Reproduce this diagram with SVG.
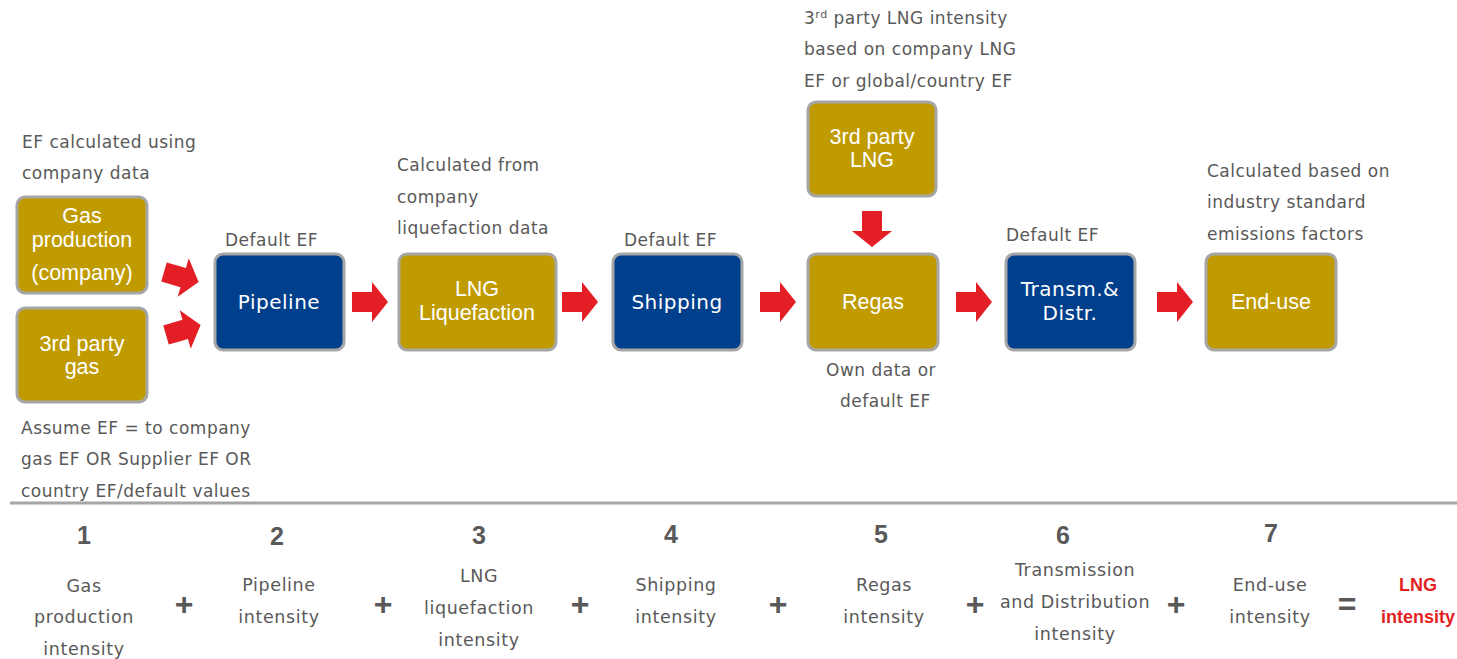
<svg xmlns="http://www.w3.org/2000/svg" width="1457" height="659" viewBox="0 0 1457 659">
<defs>
<style>
.gold{fill:#BF9B00;stroke:#A6A6A6;stroke-width:3}
.blue{fill:#003F8C;stroke:#A6A6A6;stroke-width:3}
.bt{font-family:"Liberation Sans",Arial,sans-serif;font-size:21.5px;fill:#FFFFFF;text-anchor:middle}
.bb{font-family:"DejaVu Sans",sans-serif;font-size:20px;letter-spacing:0.5px;fill:#FFFFFF;text-anchor:middle}
.an{font-family:"DejaVu Sans",sans-serif;font-size:17px;letter-spacing:0.5px;fill:#595959}
.lb{font-family:"DejaVu Sans",sans-serif;font-size:17.5px;letter-spacing:0.6px;fill:#595959;text-anchor:middle}
.num{font-family:"Liberation Sans",Arial,sans-serif;font-size:25px;font-weight:bold;fill:#595959;text-anchor:middle}
.op{font-family:"Liberation Sans",Arial,sans-serif;font-size:32px;font-weight:bold;fill:#595959;text-anchor:middle}
.res{font-family:"Liberation Sans",Arial,sans-serif;font-size:18px;font-weight:bold;fill:#E31E24;text-anchor:middle}
.arr{fill:#E31E24}
</style>
<path id="ra" class="arr" d="M0,-10 H20 V-20 L36,0 L20,20 V10 H0 Z"/>
</defs>
<rect width="1457" height="659" fill="#FFFFFF"/>

<g id="annotations">
<text class="an" x="22" y="148">EF calculated using</text>
<text class="an" x="22" y="179">company data</text>
<text class="an" x="397" y="171">Calculated from</text>
<text class="an" x="397" y="203">company</text>
<text class="an" x="397" y="234">liquefaction data</text>
<text class="an" x="225" y="246">Default EF</text>
<text class="an" x="624" y="246">Default EF</text>
<text class="an" x="1006" y="241">Default EF</text>
<text class="an" x="804" y="24">3<tspan font-size="11" dy="-6">rd</tspan><tspan dy="6"> party LNG intensity</tspan></text>
<text class="an" x="804" y="55">based on company LNG</text>
<text class="an" x="804" y="87">EF or global/country EF</text>
<text class="an" x="1207" y="177">Calculated based on</text>
<text class="an" x="1207" y="208">industry standard</text>
<text class="an" x="1207" y="240">emissions factors</text>
<text class="an" x="826" y="376">Own data or</text>
<text class="an" x="840" y="407">default EF</text>
<text class="an" x="21" y="434">Assume EF = to company</text>
<text class="an" x="21" y="465">gas EF OR Supplier EF OR</text>
<text class="an" x="21" y="497">country EF/default values</text>
</g>

<g id="node-gas-production">
<rect class="gold" x="17" y="197" width="130" height="96" rx="8"/>
<text class="bt" x="82" y="223">Gas</text>
<text class="bt" x="82" y="247">production</text>
<text class="bt" x="82" y="280">(company)</text>
</g>
<g id="node-3rd-party-gas">
<rect class="gold" x="17" y="308" width="130" height="94" rx="8"/>
<text class="bt" x="82" y="351">3rd party</text>
<text class="bt" x="82" y="374">gas</text>
</g>
<g id="node-pipeline">
<rect class="blue" x="215" y="254" width="129" height="96" rx="8"/>
<text class="bb" x="279" y="309">Pipeline</text>
</g>
<g id="node-lng-liquefaction">
<rect class="gold" x="399" y="254" width="157" height="96" rx="8"/>
<text class="bt" x="477" y="296">LNG</text>
<text class="bt" x="477" y="320">Liquefaction</text>
</g>
<g id="node-shipping">
<rect class="blue" x="613" y="254" width="129" height="96" rx="8"/>
<text class="bb" x="677" y="309">Shipping</text>
</g>
<g id="node-3rd-party-lng">
<rect class="gold" x="808" y="102" width="128" height="94" rx="8"/>
<text class="bt" x="872" y="144">3rd party</text>
<text class="bt" x="872" y="167">LNG</text>
</g>
<g id="node-regas">
<rect class="gold" x="808" y="254" width="130" height="96" rx="8"/>
<text class="bt" x="873" y="309">Regas</text>
</g>
<g id="node-transm">
<rect class="blue" x="1006" y="254" width="129" height="96" rx="8"/>
<text class="bb" x="1070" y="296">Transm.&amp;</text>
<text class="bb" x="1070" y="320">Distr.</text>
</g>
<g id="node-end-use">
<rect class="gold" x="1206" y="254" width="130" height="96" rx="8"/>
<text class="bt" x="1271" y="309">End-use</text>
</g>

<g id="connectors">
<use href="#ra" transform="translate(164,272) rotate(16)"/>
<use href="#ra" transform="translate(166,335) rotate(-16)"/>
<use href="#ra" transform="translate(352,302)"/>
<use href="#ra" transform="translate(562,302)"/>
<use href="#ra" transform="translate(760,302)"/>
<use href="#ra" transform="translate(956,302)"/>
<use href="#ra" transform="translate(1157,302)"/>
<use href="#ra" transform="translate(872,211) rotate(90)"/>
</g>

<line x1="10" y1="503" x2="1457" y2="503" stroke="#A6A6A6" stroke-width="3"/>

<g id="summary">
<text class="num" x="84" y="544">1</text>
<text class="num" x="277" y="545">2</text>
<text class="num" x="479" y="544">3</text>
<text class="num" x="671" y="543">4</text>
<text class="num" x="881" y="543">5</text>
<text class="num" x="1063" y="544">6</text>
<text class="num" x="1271" y="542">7</text>

<text class="lb" x="84" y="592">Gas</text>
<text class="lb" x="84" y="623">production</text>
<text class="lb" x="84" y="655">intensity</text>
<text class="lb" x="279" y="591">Pipeline</text>
<text class="lb" x="279" y="623">intensity</text>
<text class="lb" x="479" y="582">LNG</text>
<text class="lb" x="479" y="614">liquefaction</text>
<text class="lb" x="479" y="646">intensity</text>
<text class="lb" x="676" y="591">Shipping</text>
<text class="lb" x="676" y="623">intensity</text>
<text class="lb" x="884" y="591">Regas</text>
<text class="lb" x="884" y="623">intensity</text>
<text class="lb" x="1075" y="576">Transmission</text>
<text class="lb" x="1075" y="608">and Distribution</text>
<text class="lb" x="1075" y="640">intensity</text>
<text class="lb" x="1270" y="591">End-use</text>
<text class="lb" x="1270" y="623">intensity</text>

<text class="op" x="184" y="615">+</text>
<text class="op" x="383" y="615">+</text>
<text class="op" x="580" y="615">+</text>
<text class="op" x="778" y="615">+</text>
<text class="op" x="975" y="615">+</text>
<text class="op" x="1176" y="615">+</text>
<text class="op" x="1347" y="615">=</text>

<text class="res" x="1418" y="591">LNG</text>
<text class="res" x="1418" y="623">intensity</text>
</g>
</svg>
